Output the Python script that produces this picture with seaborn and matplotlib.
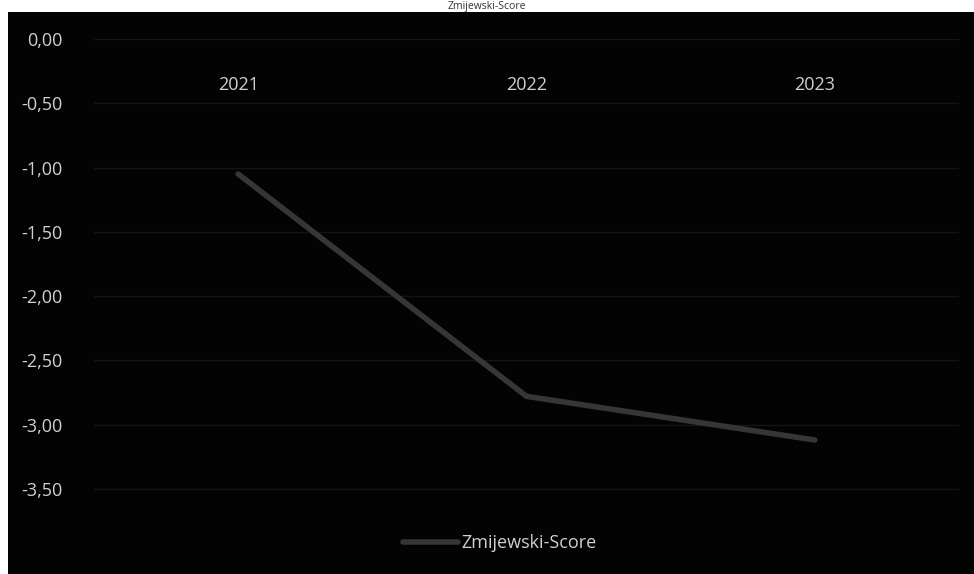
import numpy as np
import pandas as pd
import seaborn as sns
import matplotlib.pyplot as plt
from matplotlib.patches import Rectangle

years = ["2021", "2022", "2023"]
scores = [-1.05, -2.78, -3.12]
yticks = [0.0, -0.5, -1.0, -1.5, -2.0, -2.5, -3.0, -3.5]
title = "Zmijewski-Score"

df = pd.DataFrame({"Jahr": years, "Zmijewski-Score": scores})

sns.set_style("dark")
plt.rcParams["font.family"] = ["Open Sans", "DejaVu Sans"]

txt = "#d0d0d0"
fig = plt.figure(figsize=(9.74, 5.74), dpi=100, facecolor="white")
# black chart area (slightly cropped screenshot look)
fig.patches.append(Rectangle((8 / 974, 0), 1, 1 - 12 / 574, transform=fig.transFigure,
                             facecolor="#030303", edgecolor="none", zorder=-10))
fig.text(0.5, 1 - 1 / 574, title, ha="center", va="top", fontsize=7.5, color="#333333")

ax = fig.add_axes([94 / 974, 1 - 521 / 574, (959 - 94) / 974, (521 - 39) / 574])
ax.set_facecolor("none")

sns.lineplot(data=df, x="Jahr", y="Zmijewski-Score", ax=ax, color="#363636",
             linewidth=4, solid_capstyle="round", label="Zmijewski-Score", legend=False)

ax.set_xlim(-0.5, 2.5)
ax.set_ylim(-3.75, 0)
ax.set_yticks(yticks)
ax.set_yticklabels([f"{v:.2f}".replace(".", ",") for v in yticks])
ax.grid(axis="y", color="#151515", linewidth=1)
ax.grid(axis="x", visible=False)
for s in ax.spines.values():
    s.set_visible(False)
ax.set_xlabel("")
ax.set_ylabel("")
ax.xaxis.set_ticks_position("top")
ax.tick_params(axis="x", top=False, bottom=False, labeltop=True, labelbottom=False,
               pad=-43, labelsize=13, colors=txt)
ax.tick_params(axis="y", left=False, labelsize=13, colors=txt, pad=19)

h, l = ax.get_legend_handles_labels()
leg = fig.legend(h, l, loc="center", bbox_to_anchor=(500 / 974, 1 - 543 / 574), frameon=False,
                 fontsize=13, labelcolor=txt, handlelength=3, handletextpad=0.2)

fig.savefig("out.png", dpi=100, facecolor=fig.get_facecolor())
